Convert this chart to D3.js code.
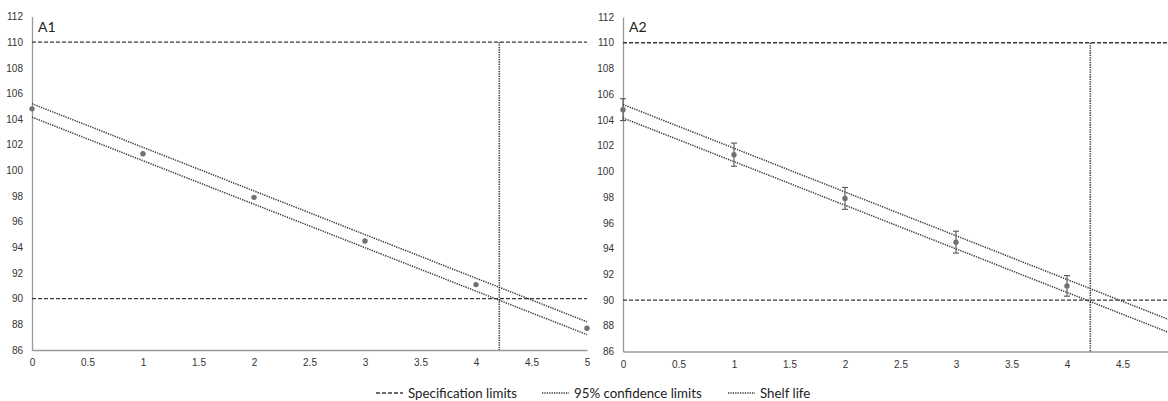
<!DOCTYPE html>
<html>
<head>
<meta charset="utf-8">
<script src="https://cdn.jsdelivr.net/npm/d3@7"></script>
<style>
  body { margin: 0; background: #fff; }
  svg { display: block; font-family: Lato, "Open Sans", sans-serif; }
  .tick text { fill: #333; font-size: 10px; }
</style>
</head>
<body>
<svg id="chart" width="1168" height="401"></svg>
<script>
// data
const months = [0, 1, 2, 3, 4, 5];
const a1Values = [104.8, 101.3, 97.9, 94.5, 91.1, 87.7];
const a2Months = [0, 1, 2, 3, 4];
const a2Values = [104.8, 101.3, 97.9, 94.5, 91.1];
const a2Errors = [0.85, 0.9, 0.85, 0.85, 0.8];
const ciX = [0, 5];
const ciUpper = [105.2, 88.2];
const ciLower = [104.15, 87.2];
const specLimits = [90, 110];
const shelfLife = 4.21;
const xTicksA1 = [0, 0.5, 1, 1.5, 2, 2.5, 3, 3.5, 4, 4.5, 5];
const xTicksA2 = [0, 0.5, 1, 1.5, 2, 2.5, 3, 3.5, 4, 4.5];
const yTicks = [86, 88, 90, 92, 94, 96, 98, 100, 102, 104, 106, 108, 110, 112];

const svg = d3.select("#chart");
const lineCol = "#3a3a3a";

function panel(opt) {
  const x = d3.scaleLinear().domain([0, 5]).range([opt.x0, opt.x0 + 555]);
  const y = d3.scaleLinear().domain([86, 112]).range([opt.yBottom, opt.yTop]);
  const g = svg.append("g");

  // axes
  const xa = g.append("g")
    .attr("transform", "translate(0," + y(86) + ")")
    .call(d3.axisBottom(x).tickValues(opt.xTicks).tickSize(0).tickPadding(9).tickFormat(d3.format("")));
  xa.select(".domain").attr("stroke", "#999").attr("stroke-width", 1.3);

  const ya = g.append("g")
    .attr("transform", "translate(" + x(0) + ",0)")
    .call(d3.axisLeft(y).tickValues(yTicks).tickSize(0).tickPadding(9));
  ya.select(".domain").attr("stroke", "#999").attr("stroke-width", 1.3);

  // specification limits
  g.selectAll(".spec")
    .data(specLimits)
    .enter()
    .append("line")
    .attr("x1", x(0))
    .attr("x2", x(5))
    .attr("y1", d => y(d))
    .attr("y2", d => y(d))
    .attr("stroke", lineCol)
    .attr("stroke-width", 1.3)
    .attr("stroke-dasharray", "4,2");

  // shelf life
  g.append("line")
    .attr("x1", x(shelfLife))
    .attr("x2", x(shelfLife))
    .attr("y1", y(110))
    .attr("y2", y(86))
    .attr("stroke", lineCol)
    .attr("stroke-width", 1.6)
    .attr("stroke-dasharray", "1.3,1.1");

  // 95% confidence limits
  const line = d3.line().x((d, i) => x(ciX[i])).y(d => y(d));
  [ciUpper, ciLower].forEach(arr => {
    g.append("path")
      .datum(arr)
      .attr("d", line)
      .attr("fill", "none")
      .attr("stroke", lineCol)
      .attr("stroke-width", 1.5)
      .attr("stroke-dasharray", "1.3,1.1");
  });

  // error bars
  if (opt.errors) {
    const eb = g.selectAll(".err")
      .data(opt.values)
      .enter()
      .append("g");
    eb.append("line")
      .attr("x1", (d, i) => x(opt.months[i]))
      .attr("x2", (d, i) => x(opt.months[i]))
      .attr("y1", (d, i) => y(d + opt.errors[i]))
      .attr("y2", (d, i) => y(d - opt.errors[i]))
      .attr("stroke", "#555").attr("stroke-width", 1.1);
    [1, -1].forEach(s => {
      eb.append("line")
        .attr("x1", (d, i) => x(opt.months[i]) - 3)
        .attr("x2", (d, i) => x(opt.months[i]) + 3)
        .attr("y1", (d, i) => y(d + s * opt.errors[i]))
        .attr("y2", (d, i) => y(d + s * opt.errors[i]))
        .attr("stroke", "#555").attr("stroke-width", 1.1);
    });
  }

  // points
  g.selectAll(".pt")
    .data(opt.values)
    .enter()
    .append("circle")
    .attr("cx", (d, i) => x(opt.months[i]))
    .attr("cy", d => y(d))
    .attr("r", 2.7)
    .attr("fill", "#707070");

  // panel label
  g.append("text")
    .attr("x", x(0) + 6)
    .attr("y", opt.yTop + 15)
    .attr("font-size", 14)
    .attr("fill", "#222")
    .text(opt.title);
}

panel({ title: "A1", x0: 32, yTop: 16.5, yBottom: 350, xTicks: xTicksA1, months: months, values: a1Values });
panel({ title: "A2", x0: 623, yTop: 17, yBottom: 351.5, xTicks: xTicksA2, months: a2Months, values: a2Values, errors: a2Errors });

// legend
const legend = [
  { label: "Specification limits", dash: "4,2", x: 376 },
  { label: "95% confidence limits", dash: "1.3,1.1", x: 542 },
  { label: "Shelf life", dash: "1.3,1.1", x: 728 }
];
const lg = svg.append("g").attr("transform", "translate(0,393)");
legend.forEach(d => {
  lg.append("line")
    .attr("x1", d.x).attr("x2", d.x + 27)
    .attr("y1", 0).attr("y2", 0)
    .attr("stroke", lineCol).attr("stroke-width", 1.4)
    .attr("stroke-dasharray", d.dash);
  lg.append("text")
    .attr("x", d.x + 32)
    .attr("y", 4.5)
    .attr("font-size", 13.3)
    .attr("fill", "#222")
    .text(d.label);
});
</script>
</body>
</html>
